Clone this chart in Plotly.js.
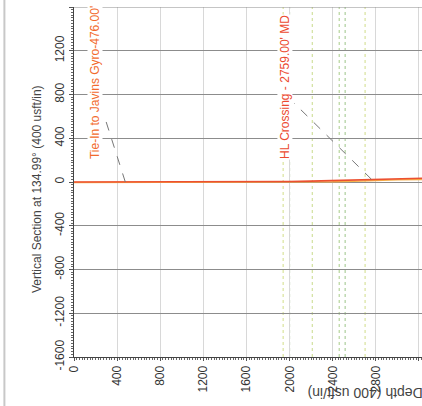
<!DOCTYPE html>
<html><head><meta charset="utf-8">
<script src="https://cdn.plot.ly/plotly-3.0.1.min.js"></script>
<style>html,body{margin:0;padding:0;background:#fff}#c{width:422px;height:406px}</style>
</head><body><div id="c"></div>
<script>
// Trajectory (MD along horizontal, vertical section along vertical)
const md       = [0, 476, 1000, 1500, 1800, 2000, 2200, 2400, 2600, 2759, 3000, 3228];
const vsActual = [0, 0, 0, 1, 3, 5, 8, 12, 18, 25, 30, 34];
const vsPlan   = [-4, -4, -4, -4, -4, -3, -2, 2, 8, 14, 20, 24];
// Formation / marker vertical lines (MD)
const formationMD = [1940, 2000, 2210, 2460, 2515, 2700];
const formationColors = ['#d2de8a', '#9cb488', '#c8da8a', '#a8cc88', '#9cc488', '#d0dc88'];
// Labelled points
const labelMD = [476, 2759];
const labelVS = [0, 25];
const labelText = ["Tie-In to Javins Gyro-476.00'", "HL Crossing - 2759.00' MD"];
const labelColors = ['#f26a2c', '#ec4a30'];
// Tick labels
const xTicks = [0, 400, 800, 1200, 1600, 2000, 2400, 2800, 3200];
const yTicks = [-1600, -1200, -800, -400, 0, 400, 800, 1200, 1600];

// label placement (layout only)
const labelTextPos = [[195, 905], [1957, 868]];
const leaderEnd = [[278, 612], [2041, 722]];

const traces = [
  {x: md, y: vsPlan, mode: 'lines', line: {color: '#f6b04a', width: 1.5}, hoverinfo: 'skip'},
  {x: md, y: vsActual, mode: 'lines', line: {color: '#ec5030', width: 1.6}, hoverinfo: 'skip'}
];

const shapes = [];
formationMD.forEach((m, i) => {
  shapes.push({type: 'line', xref: 'x', yref: 'paper', x0: m, x1: m, y0: 0, y1: 1,
    line: {color: formationColors[i], width: 1, dash: 'dot'}, layer: 'below'});
});
labelMD.forEach((m, i) => {
  shapes.push({type: 'line', xref: 'x', yref: 'y', x0: m, y0: labelVS[i], x1: leaderEnd[i][0], y1: leaderEnd[i][1],
    line: {color: '#777', width: 1, dash: 'dash'}});
});
// top border at 1600
shapes.push({type: 'line', xref: 'paper', yref: 'y', x0: 0, x1: 1, y0: 1600, y1: 1600,
  line: {color: '#8c8c8c', width: 1}});
// scanned page edge
shapes.push({type: 'line', xref: 'paper', yref: 'paper', x0: -0.2, x1: -0.2, y0: -0.2, y1: 1.1,
  line: {color: '#c8c8c8', width: 2}});

const annotations = labelText.map((t, i) => ({
  x: labelTextPos[i][0], y: labelTextPos[i][1], xref: 'x', yref: 'y', text: t, showarrow: false,
  textangle: -90, font: {family: 'Liberation Sans, Arial', size: 12, color: labelColors[i]},
  bgcolor: '#ffffff', borderpad: 0
}));
annotations.push({
  xref: 'paper', yref: 'paper', x: 0, y: 0.48, xshift: -37, xanchor: 'center', yanchor: 'middle',
  text: 'Vertical Section at 134.99° (400 usft/in)',
  showarrow: false, textangle: -90, font: {family: 'Liberation Sans, Arial', size: 12, color: '#444'}
});
annotations.push({
  xref: 'paper', yref: 'paper', x: 0.955, y: 0, yshift: -36, xanchor: 'center', yanchor: 'middle',
  text: 'True Vertical Depth (400 usft/in)',
  showarrow: false, textangle: 180, font: {family: 'Liberation Sans, Arial', size: 14, color: '#444'}
});

const layout = {
  width: 422, height: 406,
  margin: {l: 74, r: 0, t: 7, b: 49},
  paper_bgcolor: '#ffffff', plot_bgcolor: '#ffffff',
  showlegend: false,
  xaxis: {
    range: [0, 3228], tickvals: xTicks, ticktext: xTicks.map(String), tickangle: -90,
    showgrid: true, gridcolor: '#d8d8d8', gridwidth: 1, zeroline: false,
    showline: true, linecolor: '#444', linewidth: 1,
    ticks: 'outside', ticklen: 3, tickcolor: '#555',
    minor: {dtick: 25, ticks: 'outside', ticklen: 2, tickcolor: '#666', showgrid: false},
    tickfont: {family: 'Liberation Sans, Arial', size: 12, color: '#333'}
  },
  yaxis: {
    range: [-1600, 1600], tickvals: yTicks, ticktext: yTicks.map(String), tickangle: -90,
    showgrid: true, gridcolor: '#8c8c8c', gridwidth: 1, zeroline: false,
    showline: true, linecolor: '#444', linewidth: 1,
    ticks: 'outside', ticklen: 4, tickcolor: '#555',
    minor: {dtick: 25, ticks: 'outside', ticklen: 2, tickcolor: '#666', showgrid: false},
    tickfont: {family: 'Liberation Sans, Arial', size: 12, color: '#333'}
  },
  shapes: shapes,
  annotations: annotations
};

Plotly.newPlot('c', traces, layout, {staticPlot: true, displayModeBar: false});
</script>
</body></html>
